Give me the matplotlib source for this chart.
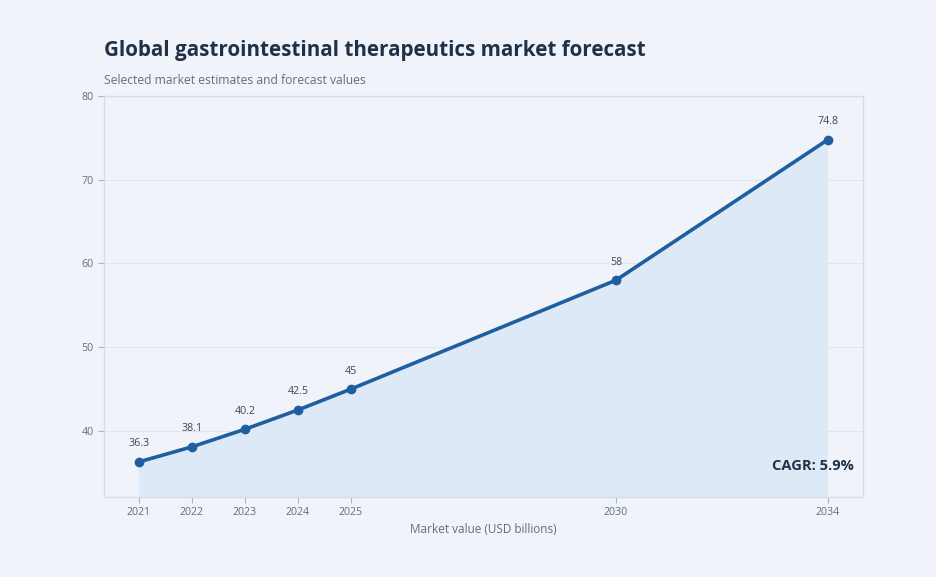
import matplotlib
matplotlib.use("Agg")
import matplotlib.pyplot as plt

# data
years = [2021, 2022, 2023, 2024, 2025, 2030, 2034]
values = [36.3, 38.1, 40.2, 42.5, 45, 58, 74.8]
labels = ['36.3', '38.1', '40.2', '42.5', '45', '58', '74.8']
cagr_text = 'CAGR: 5.9%'

plt.rcParams['font.family'] = ['Open Sans', 'DejaVu Sans']

bg = '#f0f4fa'
line_col = '#1f5fa0'
fill_col = '#dde9f6'
dark = '#1f3047'
grey = '#5f6e80'

fig = plt.figure(figsize=(9.37, 5.77), dpi=100, facecolor=bg)
ax = fig.add_axes([0.111, 0.1386, 0.810, 0.695])
ax.set_facecolor(bg)

ax.fill_between(years, values, 0, color=fill_col, lw=0, zorder=1)
ax.plot(years, values, color=line_col, lw=2.6, marker='o', ms=6, zorder=3)

for x, y, t in zip(years, values, labels):
    ax.annotate(t, (x, y), xytext=(0, 9), textcoords='offset points',
                ha='center', va='bottom', fontsize=7.7, color='#3a4656')

ax.set_xlim(2020.34, 2034.66)
ax.set_ylim(32.1, 80)
ax.set_xticks(years)
ax.set_xticklabels([str(y) for y in years])
ax.set_yticks([40, 50, 60, 70, 80])
ax.tick_params(colors='#a9b4c2', labelcolor=grey, labelsize=7.7, length=4, width=0.8)
ax.grid(axis='y', color='#dfe5ee', lw=0.8, zorder=0)
ax.set_axisbelow(True)
for s in ax.spines.values():
    s.set_color('#d5dde8')
    s.set_linewidth(1)

ax.set_xlabel('Market value (USD billions)', fontsize=8.5, color=grey, labelpad=3)

ax.text(0.988, 0.077, cagr_text, transform=ax.transAxes, ha='right', va='center',
        fontsize=10.5, fontweight='bold', color=dark)

fig.text(0.111, 0.912, 'Global gastrointestinal therapeutics market forecast',
         fontsize=14.85, fontweight='bold', color=dark, ha='left', va='center')
fig.text(0.111, 0.861, 'Selected market estimates and forecast values',
         fontsize=8.7, color=grey, ha='left', va='center')

fig.savefig('out.png', dpi=100, facecolor=bg)
